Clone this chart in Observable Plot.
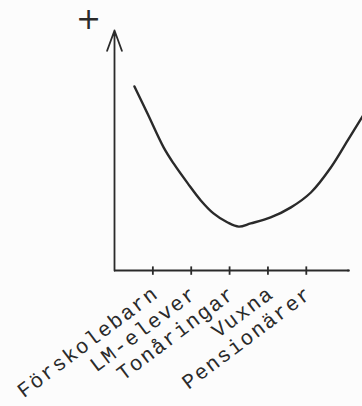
<!DOCTYPE html>
<html>
<head>
<meta charset="utf-8">
<script src="https://cdn.jsdelivr.net/npm/d3@7"></script>
<script src="https://cdn.jsdelivr.net/npm/@observablehq/plot@0.6"></script>
<style>
  html, body { margin: 0; padding: 0; background: #fcfcfc; }
  #chart svg { display: block; background: #fcfcfc; }
  #chart .catlabels text { letter-spacing: 1.6px; }
</style>
</head>
<body>
<div id="chart"></div>
<script>
// Tick labels (categories at positions 1..5 on the x axis)
const categories = ["Förskolebarn", "LM-elever", "Tonåringar", "Vuxna", "Pensionärer"];
const categoryPos = [1, 2, 3, 4, 5];

// Hand-drawn U-shaped curve (x in category units, y arbitrary 0..10)
const curveX = [0.52, 0.86, 1.28, 1.54, 1.91, 2.25, 2.58, 2.95, 3.24, 3.55, 4.07, 4.60, 5.12, 5.64, 6.08, 6.48];
const curveY = [7.67, 6.54, 5.13, 4.46, 3.63, 2.92, 2.38, 2.00, 1.83, 1.96, 2.21, 2.63, 3.25, 4.29, 5.42, 6.46];

const yAxisLabel = "+";

const curve = curveX.map((x, i) => ({x, y: curveY[i]}));
const ticks = categories.map((c, i) => ({label: c, x: categoryPos[i]}));

const ink = "#2a2a2a";
const font = "'Liberation Mono', 'DejaVu Sans Mono', monospace";

const chart = Plot.plot({
  width: 362,
  height: 406,
  marginLeft: 114,
  marginRight: 14,
  marginTop: 30,
  marginBottom: 136,
  style: {background: "#fcfcfc", overflow: "hidden"},
  x: {domain: [0, 6.1], axis: null},
  y: {domain: [0, 10], axis: null},
  marks: [
    // x axis line
    Plot.ruleY([0], {x1: 0, x2: 6.1, stroke: ink, strokeWidth: 2}),
    Plot.dot([6.1], {x: d => d, y: 0, r: 1.3, fill: ink, stroke: null}),
    // tick marks crossing the axis
    Plot.ruleX(ticks, {x: "x", y1: 0.15, y2: -0.2, stroke: ink, strokeWidth: 1.8}),
    // y axis with open arrowhead
    Plot.arrow([0], {x1: 0, y1: 0, x2: 0, y2: 10, stroke: ink, strokeWidth: 1.8, headLength: 18, headAngle: 40}),
    Plot.text([yAxisLabel], {x: 0, y: 10, text: d => d, dx: -26, dy: -11, fontSize: 30, fontWeight: "normal", fill: ink, fontFamily: "'DejaVu Sans', sans-serif"}),
    // curve
    Plot.line(curve, {x: "x", y: "y", curve: "catmull-rom", stroke: ink, strokeWidth: 2.4}),
    // rotated tick labels
    Plot.text(ticks, {
      x: "x", y: 0, text: "label",
      rotate: -37, textAnchor: "end", lineAnchor: "middle",
      dx: 3, dy: 20,
      fontSize: 21, fontFamily: font, fill: ink,
      className: "catlabels"
    })
  ]
});
document.getElementById("chart").appendChild(chart);
</script>
</body>
</html>
